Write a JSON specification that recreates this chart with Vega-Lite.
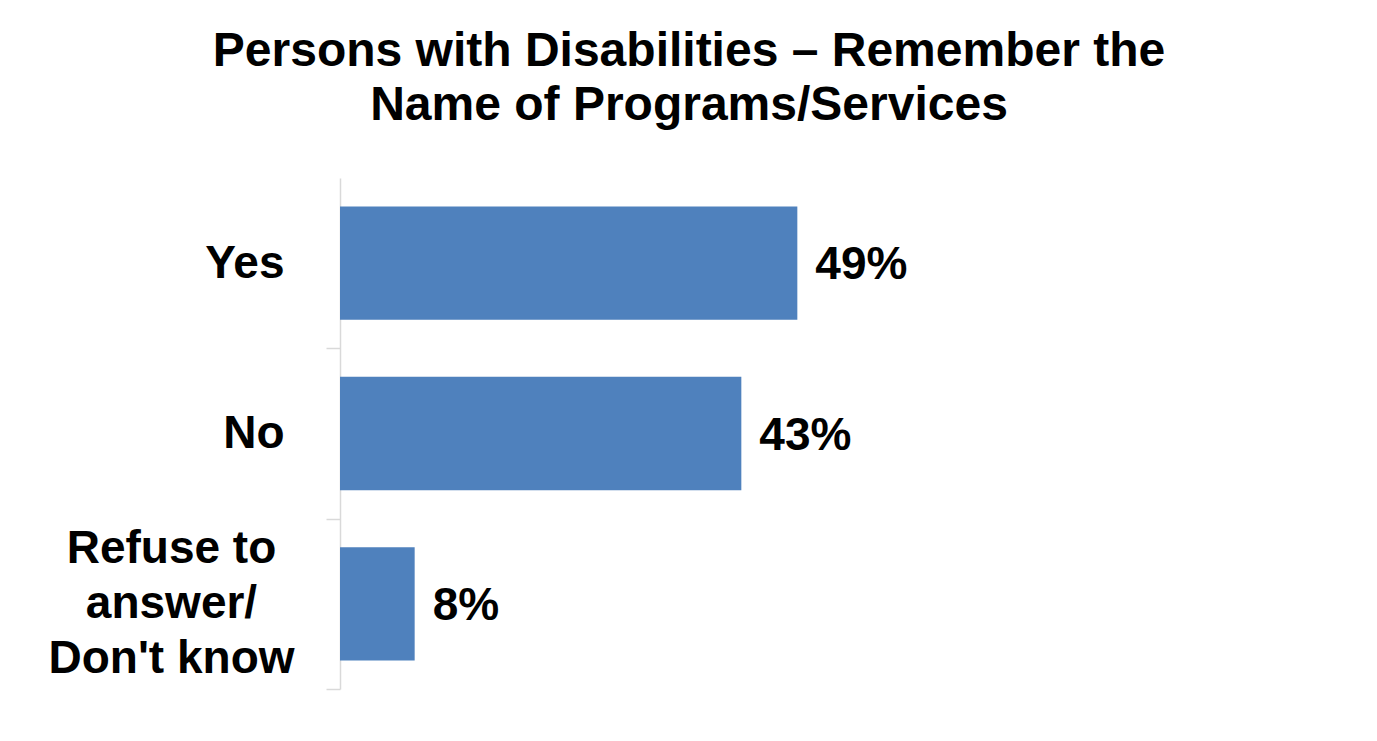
{
  "$schema": "https://vega.github.io/schema/vega-lite/v6.json",
  "width": 560,
  "height": 511,
  "padding": {"left": 47, "top": 28, "right": 10, "bottom": 40},
  "background": "white",
  "title": {
    "text": ["Persons with Disabilities – Remember the", "Name of Programs/Services"],
    "font": "Liberation Sans",
    "fontSize": 48,
    "fontWeight": "bold",
    "color": "black",
    "lineHeight": 54,
    "anchor": "middle",
    "dx": 69,
    "offset": 48
  },
  "data": {
    "values": [
      {"answer": "Yes", "share": 0.49},
      {"answer": "No", "share": 0.43},
      {"answer": "Refuse to answer/ Don't know", "share": 0.08}
    ]
  },
  "encoding": {
    "y": {
      "field": "answer",
      "type": "nominal",
      "sort": null,
      "scale": {"paddingInner": 0.335, "paddingOuter": 0.1675},
      "axis": {
        "title": null,
        "domainColor": "#d9d9d9",
        "domainWidth": 1.5,
        "tickColor": "#d9d9d9",
        "tickWidth": 1.5,
        "tickSize": 14,
        "tickOffset": 85,
        "labelFont": "Liberation Sans",
        "labelFontSize": 46,
        "labelFontWeight": "bold",
        "labelColor": "black",
        "labelLimit": 400,
        "labelLineHeight": 55,
        "labelBaseline": "middle",
        "labelAlign": {"condition": {"test": "indexof(datum.value, 'Refuse') == 0", "value": "center"}, "value": "right"},
        "labelPadding": {"condition": {"test": "indexof(datum.value, 'Refuse') == 0", "value": 155}, "value": 42},
        "labelOffset": {"condition": {"test": "indexof(datum.value, 'Refuse') == 0", "value": -140}, "value": -85},
        "labelExpr": "indexof(datum.value, 'Refuse') == 0 ? ['Refuse to', 'answer/', \"Don't know\"] : datum.label"
      }
    },
    "x": {
      "field": "share",
      "type": "quantitative",
      "scale": {"domain": [0, 0.6]},
      "axis": null
    }
  },
  "layer": [
    {"mark": {"type": "bar", "color": "#4f81bd"}},
    {
      "mark": {
        "type": "text",
        "align": "left",
        "baseline": "middle",
        "dx": 18,
        "dy": 2,
        "font": "Liberation Sans",
        "fontSize": 46,
        "fontWeight": "bold",
        "color": "black"
      },
      "encoding": {"text": {"field": "share", "type": "quantitative", "format": ".0%"}}
    }
  ],
  "config": {"view": {"stroke": null}}
}
